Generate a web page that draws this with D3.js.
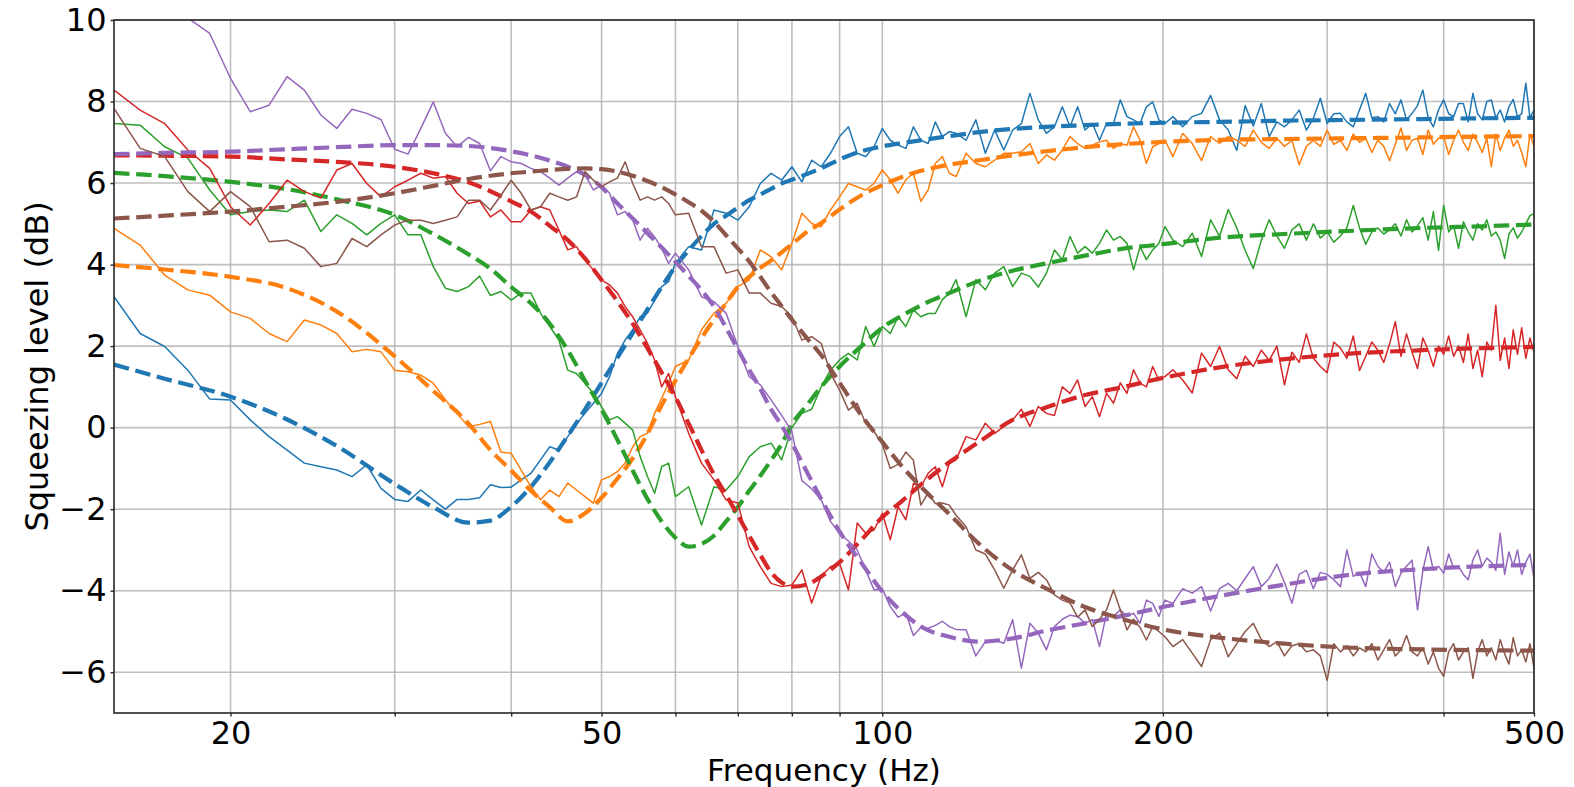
<!DOCTYPE html>
<html>
<head>
<meta charset="utf-8">
<script src="https://cdn.jsdelivr.net/npm/d3@7"></script>
<style>
  body { margin: 0; background: #fff; }
</style>
</head>
<body>
<svg id="chart" width="1574" height="787"></svg>
<script>
// measured frequencies (Hz)
const freq = [15,16,17,18,19,20,21,22,23,24,25,26,27,28,29,30,31,32,33,34,35,36,37,38,39,40,41,42,43,44,45,46,47,48,49,50,51,52,53,54,55,56,57,58,59,60,
  62,64,66,68,70,72,74,76,78,80,82,84,86,88,90,92,94,96,98,100,102,104,106,108,110,112,114,116,118,120,
  123,126,129,132,135,138,141,144,147,150,153,156,159,162,165,168,171,174,177,180,183,186,189,192,195,198,201,
  205,210,215,220,225,230,235,240,245,250,255,260,265,270,275,280,285,290,295,300,
  305,310,315,320,325,330,335,340,345,350,355,360,365,370,375,380,385,390,395,400,
  405,410,415,420,425,430,435,440,445,450,455,460,465,470,475,480,485,490,495,500]

// measured squeezing (dB), one array per detuning
const blueData = [3.21,2.31,1.99,1.41,0.70,0.68,0.19,-0.22,-0.55,-0.87,-0.96,-1.04,-1.20,-0.91,-1.49,-1.76,-1.81,-1.53,-1.77,-2.00,-1.76,-1.76,-1.72,-1.40,-1.47,-1.46,-1.28,-1.12,-0.79,-0.47,-0.55,-0.22,0.10,0.35,0.60,0.84,1.25,1.82,2.15,2.40,2.72,2.81,3.13,3.46,3.58,4.03,
  4.44,4.36,5.34,5.26,5.09,5.42,5.99,6.24,6.07,6.40,6.03,6.56,6.40,6.73,7.14,7.38,6.73,6.65,6.89,7.34,7.05,6.93,6.85,7.38,7.05,6.97,7.50,7.14,7.26,7.22,
  7.05,7.55,6.73,7.30,6.81,7.30,7.46,8.20,7.55,7.22,7.38,7.87,7.38,7.87,7.30,7.46,7.05,7.46,7.46,8.04,7.63,7.55,7.46,7.87,7.99,7.55,7.46,
  7.63,7.38,7.63,7.71,8.15,7.55,7.30,6.80,7.90,7.40,7.95,7.14,7.50,7.38,7.55,7.79,7.30,7.59,8.08,7.46,
  7.70,7.71,7.50,7.38,7.80,8.20,7.60,7.63,7.50,7.95,7.70,8.04,7.55,7.71,7.90,8.28,7.60,7.38,7.80,8.04,
  7.70,7.63,7.95,7.95,7.50,8.20,7.70,7.55,8.00,8.04,7.60,7.79,7.50,7.87,8.05,7.63,7.70,8.45,7.60,7.79]
const orangeData = [4.89,4.48,3.74,3.38,3.25,2.84,2.68,2.31,2.11,2.64,2.52,2.31,1.86,1.92,1.86,1.41,1.37,1.29,1.09,0.68,0.35,0.02,0.08,0.15,-0.60,-0.63,-1.04,-1.45,-1.77,-1.53,-1.69,-1.36,-1.53,-1.69,-1.85,-1.28,-1.20,-1.08,-0.87,-0.47,-0.22,-0.14,0.35,0.72,1.09,1.50,
  1.66,2.40,2.81,3.05,3.46,3.62,4.36,4.19,3.87,4.52,5.26,5.01,4.93,5.34,5.66,5.99,5.91,5.83,5.99,6.32,6.08,5.75,6.08,6.24,5.55,5.83,6.48,6.65,6.24,6.16,
  6.73,6.48,6.40,6.56,6.73,6.73,6.77,6.97,6.48,6.69,6.56,6.81,7.14,6.97,6.85,6.93,7.01,7.05,6.85,6.97,6.93,7.38,7.05,6.48,6.89,6.97,7.05,
  6.65,7.22,6.97,6.55,7.14,6.97,7.14,7.05,6.90,7.30,7.00,6.85,7.10,6.90,7.05,6.45,6.90,7.05,6.90,7.30,
  6.95,7.05,6.80,7.20,7.00,7.10,6.75,7.05,6.90,6.55,6.95,7.35,6.80,7.05,7.10,6.70,7.30,6.95,7.10,7.15,
  6.70,7.05,7.30,7.00,6.80,7.20,7.00,6.75,7.10,6.40,7.20,6.80,7.10,7.30,6.90,7.05,6.75,6.40,7.20,6.90]
const greenData = [7.46,7.42,6.89,6.61,5.83,5.22,5.30,5.34,5.30,5.58,4.81,5.22,5.01,4.73,5.01,5.22,4.73,4.73,3.95,3.42,3.34,3.46,3.72,3.24,3.34,3.13,3.30,3.30,2.81,2.48,2.15,1.41,1.33,1.09,0.84,0.51,0.19,0.27,0.11,-0.06,-0.71,-1.20,-1.61,-0.96,-0.87,-1.69,
  -1.45,-2.39,-1.45,-1.53,-1.20,-0.71,-0.47,-0.38,-0.79,0.00,0.35,0.45,1.00,1.41,1.66,1.82,1.66,2.48,1.99,2.48,2.31,2.72,2.48,2.89,2.72,2.80,2.80,3.14,3.30,3.63,
  2.72,3.63,3.38,3.79,3.95,3.46,3.79,3.71,3.45,3.79,4.36,4.12,4.69,4.28,4.44,4.28,4.52,4.85,4.60,4.69,4.52,3.87,4.44,4.12,4.36,4.52,4.93,
  4.60,4.44,4.77,4.20,5.10,4.69,5.35,4.90,4.35,3.90,4.60,5.10,4.70,4.40,4.85,5.00,4.60,5.00,4.65,4.80,
  4.55,4.70,4.90,5.45,4.90,4.50,4.80,4.90,4.75,4.85,5.00,4.70,5.10,4.80,4.95,5.15,4.60,5.30,4.35,5.45,
  4.80,4.95,4.40,5.05,4.80,4.60,5.00,4.85,5.10,4.70,4.80,4.60,4.15,4.75,4.90,4.65,4.80,5.00,5.20,5.25]
const redData = [8.28,7.79,7.46,6.81,6.36,5.42,4.97,5.50,6.07,5.79,5.63,6.32,6.48,5.99,5.66,5.91,6.07,6.24,6.12,6.16,5.75,5.50,5.56,5.17,5.34,5.05,5.05,5.34,5.42,5.34,4.85,4.36,4.44,4.11,3.87,3.62,3.50,3.30,2.97,2.72,2.40,2.07,1.66,1.00,1.33,0.76,
  -0.14,-0.87,-1.28,-1.77,-1.85,-2.92,-3.41,-3.82,-3.90,-3.86,-3.49,-4.30,-3.65,-3.41,-3.33,-3.98,-2.34,-2.59,-2.51,-2.10,-2.75,-1.94,-2.26,-1.37,-1.45,-1.12,-0.96,-1.45,-0.88,-0.79,
  -0.22,-0.30,0.11,-0.14,0.03,0.19,0.45,0.03,0.52,0.35,0.30,1.00,0.84,1.17,0.52,0.76,0.27,0.84,0.60,1.10,0.84,1.42,1.09,1.00,1.50,1.17,1.25,
  1.42,1.17,0.85,1.83,1.50,1.99,1.42,1.20,1.75,1.50,1.90,1.65,2.00,1.05,1.85,1.60,2.30,1.70,1.50,1.35,
  2.10,1.95,1.70,2.25,1.40,1.75,2.10,1.90,1.60,2.05,2.60,1.75,2.30,1.85,1.45,2.20,1.90,1.50,2.00,1.80,
  2.25,1.75,2.00,1.60,2.30,1.45,1.90,1.25,2.10,1.90,3.00,1.65,2.20,1.45,2.40,1.80,2.45,1.70,2.20,1.85]
const purpleData = [11.8,11.2,10.6,10.05,9.67,8.57,7.75,7.91,8.61,8.28,7.67,7.34,7.81,7.71,7.56,6.83,6.71,7.34,7.99,7.22,6.89,7.12,6.97,6.30,6.65,6.52,6.48,6.36,6.28,6.12,5.95,6.12,6.28,6.20,5.83,5.95,5.75,5.22,5.30,5.09,4.60,4.89,4.68,4.40,4.03,4.28,
  3.87,3.21,3.09,2.81,1.99,1.25,1.05,0.68,0.30,-0.10,-1.30,-1.50,-1.77,-2.30,-2.60,-2.78,-3.00,-3.50,-3.98,-3.95,-4.39,-4.65,-4.55,-5.10,-4.90,-4.92,-4.85,-4.75,-4.88,-4.95,
  -4.96,-5.60,-5.25,-5.21,-5.29,-4.71,-5.90,-4.80,-5.04,-5.45,-4.88,-4.70,-4.60,-4.63,-4.80,-4.71,-5.37,-4.55,-4.63,-4.47,-4.63,-4.55,-4.80,-4.23,-4.31,-4.63,-4.23,
  -4.31,-3.95,-4.06,-3.90,-4.50,-3.95,-3.82,-4.00,-3.70,-3.41,-3.90,-3.70,-3.35,-3.80,-4.31,-3.60,-3.50,-3.95,-3.55,-3.60,
  -3.73,-3.90,-3.00,-3.65,-3.55,-3.90,-3.10,-3.40,-3.55,-3.30,-3.90,-3.57,-3.40,-3.25,-4.47,-3.50,-2.92,-3.50,-3.40,-3.57,
  -3.10,-3.45,-3.40,-3.60,-3.73,-3.25,-3.00,-3.40,-3.20,-3.30,-3.50,-2.59,-3.60,-3.05,-3.40,-3.00,-3.60,-3.30,-3.10,-3.70]
const brownData = [7.83,6.85,6.65,5.79,5.30,5.79,5.42,4.56,4.60,4.40,3.95,4.03,4.64,4.44,4.73,4.97,5.09,5.09,5.01,5.09,5.17,5.58,5.58,5.34,5.70,6.07,5.75,5.34,5.42,5.75,5.66,5.58,5.66,6.28,6.07,5.91,6.03,6.12,6.52,5.99,5.58,5.66,5.58,5.66,5.50,5.22,
  5.26,4.44,4.44,3.79,3.87,3.30,3.30,3.05,2.97,2.72,2.15,2.23,2.07,1.33,0.92,0.43,0.60,0.10,-0.10,-0.40,-1.00,-0.90,-0.60,-0.80,-1.90,-1.60,-1.86,-1.85,-1.90,-2.15,
  -2.43,-3.00,-3.10,-3.49,-3.94,-3.49,-3.12,-3.70,-3.55,-3.73,-4.10,-4.23,-4.30,-4.65,-4.47,-4.88,-4.70,-4.47,-3.98,-4.47,-4.96,-4.70,-4.90,-5.21,-4.88,-5.00,-5.13,
  -5.37,-5.20,-5.53,-5.86,-5.20,-5.04,-5.62,-5.30,-5.00,-4.80,-5.20,-5.37,-5.25,-5.60,-5.35,-5.30,-5.50,-5.45,-5.60,-6.20,
  -5.30,-5.50,-5.35,-5.60,-5.40,-5.50,-5.30,-5.70,-5.45,-5.20,-5.60,-5.45,-5.10,-5.50,-5.60,-5.40,-5.80,-5.50,-5.90,-6.10,
  -5.50,-5.30,-5.70,-5.50,-5.40,-6.15,-5.50,-5.20,-5.60,-5.40,-5.70,-5.20,-5.55,-5.80,-5.15,-5.60,-5.45,-5.75,-5.30,-5.90]

// model fits
const fitFreq = [15,17,20,23,26,30,33,36,38,40,42,44,46,48,50,52,54,56,58,60,62,64,66,68,70,72,74,76,78,80,
  83,86,90,95,100,105,110,118,127,138,150,165,180,200,230,270,320,380,440,500]
const blueFit = [1.55,1.20,0.76,0.20,-0.45,-1.38,-1.95,-2.33,-2.28,-1.94,-1.45,-0.85,-0.20,0.45,1.10,1.72,2.32,2.90,3.45,3.95,
  4.35,4.70,5.00,5.20,5.40,5.58,5.72,5.86,5.99,6.08,6.22,6.36,6.58,6.78,6.90,6.98,7.05,7.15,7.25,7.33,
  7.38,7.42,7.45,7.48,7.50,7.53,7.55,7.57,7.59,7.60]
const orangeFit = [3.99,3.88,3.70,3.42,2.85,1.75,0.90,0.10,-0.55,-1.05,-1.55,-1.95,-2.30,-2.10,-1.72,-1.25,-0.75,-0.15,0.55,1.15,
  1.70,2.20,2.65,3.05,3.45,3.70,3.92,4.10,4.30,4.50,4.80,5.02,5.35,5.70,5.95,6.15,6.30,6.45,6.56,6.68,
  6.78,6.88,6.95,7.01,7.06,7.08,7.10,7.12,7.14,7.15]
const greenFit = [6.25,6.17,6.03,5.85,5.60,5.22,4.75,4.25,3.90,3.45,3.05,2.55,1.90,1.15,0.45,-0.30,-1.05,-1.75,-2.30,-2.70,
  -2.92,-2.85,-2.65,-2.30,-1.95,-1.55,-1.18,-0.80,-0.40,0.08,0.55,1.00,1.50,2.00,2.45,2.75,3.00,3.30,3.60,3.85,
  4.03,4.22,4.38,4.50,4.66,4.75,4.83,4.90,4.94,4.98]
const redFit = [6.68,6.67,6.65,6.58,6.52,6.40,6.24,6.02,5.80,5.55,5.30,4.95,4.60,4.15,3.62,3.10,2.55,1.95,1.35,0.75,
  0.10,-0.55,-1.15,-1.65,-2.15,-2.65,-3.12,-3.55,-3.80,-3.90,-3.85,-3.65,-3.30,-2.75,-2.20,-1.80,-1.40,-0.85,-0.35,0.19,
  0.50,0.80,0.98,1.22,1.48,1.68,1.82,1.90,1.95,1.98]
const purpleFit = [6.71,6.74,6.77,6.83,6.88,6.93,6.93,6.91,6.86,6.78,6.68,6.55,6.40,6.20,5.90,5.50,5.13,4.77,4.42,4.07,
  3.72,3.37,2.97,2.45,1.92,1.42,0.95,0.45,0.05,-0.38,-1.08,-1.75,-2.55,-3.32,-4.02,-4.52,-4.88,-5.13,-5.25,-5.17,
  -4.98,-4.80,-4.63,-4.40,-4.13,-3.85,-3.60,-3.47,-3.40,-3.37]
const brownFit = [5.13,5.20,5.30,5.42,5.54,5.75,5.93,6.10,6.18,6.24,6.28,6.32,6.35,6.36,6.34,6.28,6.18,6.05,5.90,5.72,
  5.53,5.32,5.05,4.72,4.40,4.08,3.70,3.32,2.98,2.65,2.20,1.78,1.10,0.30,-0.35,-0.95,-1.45,-2.12,-2.85,-3.50,
  -3.95,-4.40,-4.68,-4.95,-5.15,-5.30,-5.40,-5.44,-5.46,-5.47]

const xTickLabels = [20, 50, 100, 200, 500]
const xGrid = [20, 30, 40, 50, 60, 70, 80, 90, 100, 200, 300, 400, 500]
const yTicks = [-6, -4, -2, 0, 2, 4, 6, 8, 10]

const series = [
  { data: blueData, fit: blueFit, color: "#1f77b4" },
  { data: orangeData, fit: orangeFit, color: "#ff7f0e" },
  { data: greenData, fit: greenFit, color: "#2ca02c" },
  { data: redData, fit: redFit, color: "#d62728" },
  { data: purpleData, fit: purpleFit, color: "#9467bd" },
  { data: brownData, fit: brownFit, color: "#8c564b" }
]

const plot_left = 114, plot_right = 1534, plot_top = 20, plot_bottom = 713
const svg = d3.select("#chart")

const x = d3.scaleLog().domain([15, 500]).range([plot_left, plot_right])
const y = d3.scaleLinear().domain([-7, 10]).range([plot_bottom, plot_top])

svg.append("defs").append("clipPath")
    .attr("id", "plotClip")
    .append("rect")
    .attr("x", plot_left)
    .attr("y", plot_top)
    .attr("width", plot_right - plot_left)
    .attr("height", plot_bottom - plot_top)

// grid
svg.append("g")
    .selectAll("line")
    .data(xGrid)
    .enter()
    .append("line")
    .attr("x1", d => x(d))
    .attr("x2", d => x(d))
    .attr("y1", plot_top)
    .attr("y2", plot_bottom)
    .style("stroke", "#b0b0b0")
    .style("stroke-width", 1.6)
    .style("opacity", 0.8)

svg.append("g")
    .selectAll("line")
    .data(yTicks)
    .enter()
    .append("line")
    .attr("x1", plot_left)
    .attr("x2", plot_right)
    .attr("y1", d => y(d))
    .attr("y2", d => y(d))
    .style("stroke", "#b0b0b0")
    .style("stroke-width", 1.6)
    .style("opacity", 0.8)

// curves
const dataLine = d3.line()
    .x((d, i) => x(freq[i]))
    .y(d => y(d))

const fitLine = d3.line()
    .x((d, i) => x(fitFreq[i]))
    .y(d => y(d))
    .curve(d3.curveMonotoneX)

const curves = svg.append("g").attr("clip-path", "url(#plotClip)")

series.forEach(function (s) {
    curves.append("path")
        .attr("d", dataLine(s.data))
        .style("fill", "none")
        .style("stroke", s.color)
        .style("stroke-width", 1.5)
        .style("stroke-linejoin", "round")
    curves.append("path")
        .attr("d", fitLine(s.fit))
        .style("fill", "none")
        .style("stroke", s.color)
        .style("stroke-width", 4.2)
        .style("stroke-dasharray", "15.5,6.7")
})

// axes frame
svg.append("rect")
    .attr("x", plot_left)
    .attr("y", plot_top)
    .attr("width", plot_right - plot_left)
    .attr("height", plot_bottom - plot_top)
    .style("fill", "none")
    .style("stroke", "#262626")
    .style("stroke-width", 1.6)

const xAxis = d3.axisBottom(x)
    .tickValues(xGrid)
    .tickSize(3.5)
    .tickPadding(5)
    .tickFormat(d => xTickLabels.includes(d) ? d3.format("d")(d) : "")

const gx = svg.append("g")
    .attr("transform", "translate(0," + plot_bottom + ")")
    .call(xAxis)
gx.select(".domain").remove()
gx.selectAll(".tick line").style("stroke", "#262626").style("stroke-width", 1.4)
gx.selectAll(".tick text")
    .attr("dy", "0.71em")
    .style("fill", "#000")
    .style("font-size", "32px")
    .style("font-family", "'DejaVu Sans', sans-serif")

const yAxis = d3.axisLeft(y)
    .tickValues(yTicks)
    .tickSize(3.5)
    .tickPadding(4)
    .tickFormat(d3.format("d"))

const gy = svg.append("g")
    .attr("transform", "translate(" + plot_left + ",0)")
    .call(yAxis)
gy.select(".domain").remove()
gy.selectAll(".tick line").style("stroke", "#262626").style("stroke-width", 1.4)
gy.selectAll(".tick text")
    .style("fill", "#000")
    .style("font-size", "32px")
    .style("font-family", "'DejaVu Sans', sans-serif")

// axis titles
svg.append("text")
    .text("Frequency (Hz)")
    .attr("x", (plot_left + plot_right) / 2)
    .attr("y", 781)
    .attr("text-anchor", "middle")
    .style("fill", "#000")
    .style("font-size", "31px")
    .style("font-family", "'DejaVu Sans', sans-serif")

svg.append("text")
    .text("Squeezing level (dB)")
    .attr("transform", "translate(48," + (plot_top + plot_bottom) / 2 + ") rotate(-90)")
    .attr("text-anchor", "middle")
    .style("fill", "#000")
    .style("font-size", "32px")
    .style("font-family", "'DejaVu Sans', sans-serif")
</script>
</body>
</html>
